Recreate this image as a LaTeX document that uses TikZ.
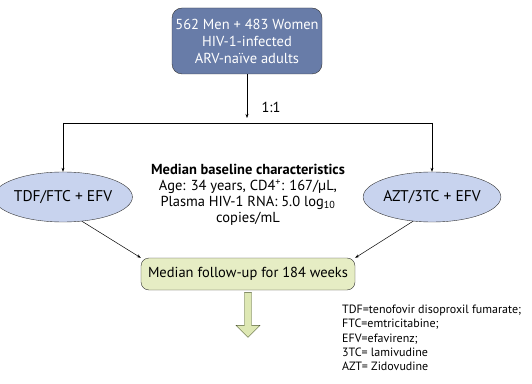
\documentclass[tikz,border=0pt]{standalone}
\usepackage{fontspec}
\setmainfont{PT Sans}
\usetikzlibrary{arrows.meta,positioning,calc,shapes.geometric,shapes.arrows}

\definecolor{topblue}{RGB}{104,124,168}
\definecolor{armblue}{RGB}{200,211,238}
\definecolor{fupgreen}{RGB}{230,237,196}
\definecolor{outgreen}{RGB}{222,232,180}
\definecolor{fupedge}{RGB}{80,90,50}

\begin{document}
\begin{tikzpicture}[
  x=1pt, y=1pt,
  font=\fontsize{14.5}{16}\selectfont,
  start/.style={draw=black!80, rounded corners=10pt, fill=topblue, text=white, align=center, minimum width=150pt, minimum height=66pt, inner sep=1pt, font=\fontsize{14.5}{17}\selectfont},
  arm/.style={draw=black!80, ellipse, fill=armblue, minimum width=112pt, minimum height=50pt, inner sep=0pt, font=\fontsize{15.5}{17}\selectfont},
  fup/.style={draw=black!80, rounded corners=8pt, fill=fupgreen, minimum width=214pt, minimum height=32pt},
  bar/.style={line width=0.5pt},
  arr/.style={-{Stealth[length=4pt,width=3pt]}, line width=0.5pt}
]
  \useasboundingbox (0,0) rectangle (532,383);

  % Enrolled patients
  \node[start] (pop) at (247,342) {562 Men + 483 Women\\HIV-1-infected\\ARV-na\"ive adults};

  % Randomisation split
  \coordinate (tip1) at (247,265);
  \coordinate (split1) at (247,260);
  \draw[arr] (pop.south) -- (tip1);
  \node[anchor=west] (ratio) at (258,276) {1:1};

  % Two treatment arms
  \node[arm] (tdf) at (63,186) {TDF/FTC + EFV};
  \node[arm] (azt) at (432,186) {AZT/3TC + EFV};

  \draw[bar] (split1 -| tdf) -- (split1 -| azt);
  \draw[arr] (split1 -| tdf) -- (tdf.north);
  \draw[arr] (split1 -| azt) -- (azt.north);

  % Baseline characteristics
  \node[align=center] (base) at (248,188) {\textbf{Median baseline characteristics}\\Age: 34 years, CD4\textsuperscript{+}: 167/\textmu L,\\Plasma HIV-1 RNA: 5.0 log\textsubscript{10}\\copies/mL};

  % Follow-up
  \node[fup] (fu) at (248,109) {Median follow-up for 184 weeks};
  \draw[arr] (tdf.-52) -- (fu.north west);
  \draw[arr] (azt.-128) -- (fu.north east);

  % Outcome arrow
  \node[single arrow, draw=fupedge, fill=outgreen, shape border rotate=270,
        minimum width=24pt, minimum height=45pt, single arrow head extend=6.5pt,
        single arrow tip angle=90, inner sep=2.5pt, below=2pt of fu] (out) {};

  % Abbreviations
  \node[anchor=north west, align=left, inner sep=0pt, font=\fontsize{12}{14.3}\selectfont] (abbr) at (342,78)
    {TDF=tenofovir disoproxil fumarate;\\FTC=emtricitabine;\\EFV=efavirenz;\\3TC= lamivudine\\AZT= Zidovudine};
\end{tikzpicture}
\end{document}
